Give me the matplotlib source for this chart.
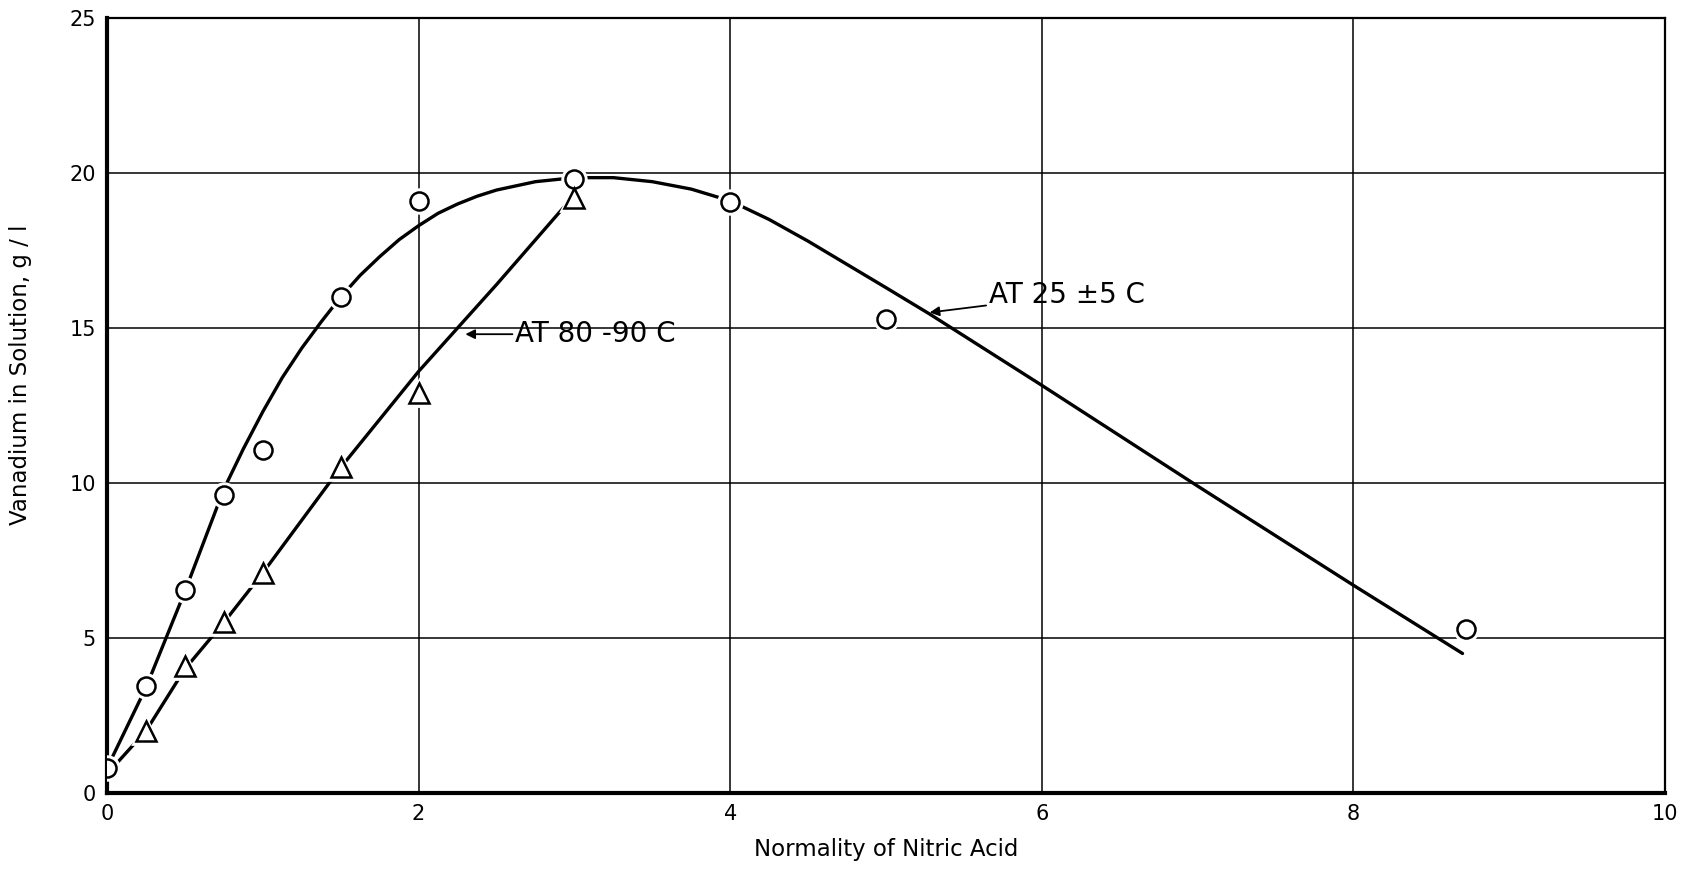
import matplotlib
matplotlib.use("Agg")
from matplotlib import pyplot as plt

# measured points, 25 +/- 5 C (circles)
cold_x = [0, 0.25, 0.5, 0.75, 1.0, 1.5, 2.0, 3.0, 4.0, 5.0, 8.72]
cold_y = [0.8, 3.45, 6.55, 9.6, 11.05, 16.0, 19.1, 19.8, 19.05, 15.3, 5.3]

# measured points, 80-90 C (triangles)
warm_x = [0.25, 0.5, 0.75, 1.0, 1.5, 2.0, 3.0]
warm_y = [2.0, 4.1, 5.5, 7.1, 10.5, 12.9, 19.2]

# hand-drawn curves
cold_curve_x = [0, 0.125, 0.25, 0.375, 0.5, 0.625, 0.75, 0.875, 1.0, 1.125, 1.25,
                1.375, 1.5, 1.625, 1.75, 1.875, 2.0, 2.125, 2.25, 2.375, 2.5,
                2.75, 3.0, 3.25, 3.5, 3.75, 4.0, 4.25, 4.5, 4.75, 5.0, 5.28,
                6.0, 7.0, 8.0, 8.7]
cold_curve_y = [0.8, 2.1, 3.4, 4.95, 6.5, 8.15, 9.8, 11.1, 12.3, 13.4, 14.35,
                15.2, 16.0, 16.7, 17.3, 17.85, 18.3, 18.7, 19.0, 19.25, 19.45,
                19.72, 19.85, 19.85, 19.72, 19.48, 19.1, 18.5, 17.8, 17.05, 16.3, 15.45,
                13.15, 9.9, 6.7, 4.5]

warm_curve_x = [0.07, 0.25, 0.5, 0.75, 1.0, 1.5, 2.0, 2.5, 2.95]
warm_curve_y = [1.0, 2.0, 4.0, 5.5, 7.1, 10.5, 13.6, 16.4, 19.0]

x_ticks = [0, 2, 4, 6, 8, 10]
y_ticks = [0, 5, 10, 15, 20, 25]

plt.rcParams["font.family"] = ["DejaVu Sans"]

fig = plt.figure(figsize=(16.93, 8.74), dpi=100)
ax = fig.add_axes([0.0632, 0.0927, 0.9203, 0.8867])

# curves
ax.plot(cold_curve_x, cold_curve_y, color="black", lw=2.4, zorder=3,
        solid_capstyle="round", solid_joinstyle="round")
ax.plot(warm_curve_x, warm_curve_y, color="black", lw=2.4, zorder=3,
        solid_capstyle="round", solid_joinstyle="round")

# white halos give the little gaps where lines meet the symbols
ax.plot(cold_x, cold_y, ls="none", marker="o", ms=17, mfc="white", mec="white",
        mew=2, zorder=4)
ax.plot(warm_x, warm_y, ls="none", marker="^", ms=19, mfc="white", mec="white",
        mew=2, zorder=4)
ax.plot(cold_x, cold_y, ls="none", marker="o", ms=13, mfc="white", mec="black",
        mew=1.8, zorder=5)
ax.plot(warm_x, warm_y, ls="none", marker="^", ms=14, mfc="white", mec="black",
        mew=1.8, zorder=5)

arrow = dict(arrowstyle="-|>", color="black", lw=1.3,
             mutation_scale=14, shrinkA=0, shrinkB=0)
ax.annotate("AT 80 -90 C", xy=(2.30, 14.8), xytext=(2.62, 14.8),
            fontsize=20, va="center", ha="left", arrowprops=arrow, zorder=6)
ax.annotate("AT 25 \u00b15 C", xy=(5.28, 15.5), xytext=(5.66, 16.05),
            fontsize=20, va="center", ha="left", arrowprops=arrow, zorder=6)

ax.set_xlim(0, 10)
ax.set_ylim(0, 25)
ax.set_xticks(x_ticks)
ax.set_yticks(y_ticks)
ax.tick_params(length=0, labelsize=15, pad=8)
ax.grid(True, color="black", lw=1.1)
ax.set_axisbelow(True)

for side in ["left", "bottom"]:
    ax.spines[side].set_linewidth(3)
for side in ["top", "right"]:
    ax.spines[side].set_linewidth(1.6)

ax.set_xlabel("Normality of Nitric Acid", fontsize=16.5, labelpad=10)
ax.set_ylabel("Vanadium in Solution, g / l", fontsize=16.5)
ax.yaxis.set_label_coords(-0.048, 0.54)

fig.savefig("out.png", dpi=100)
